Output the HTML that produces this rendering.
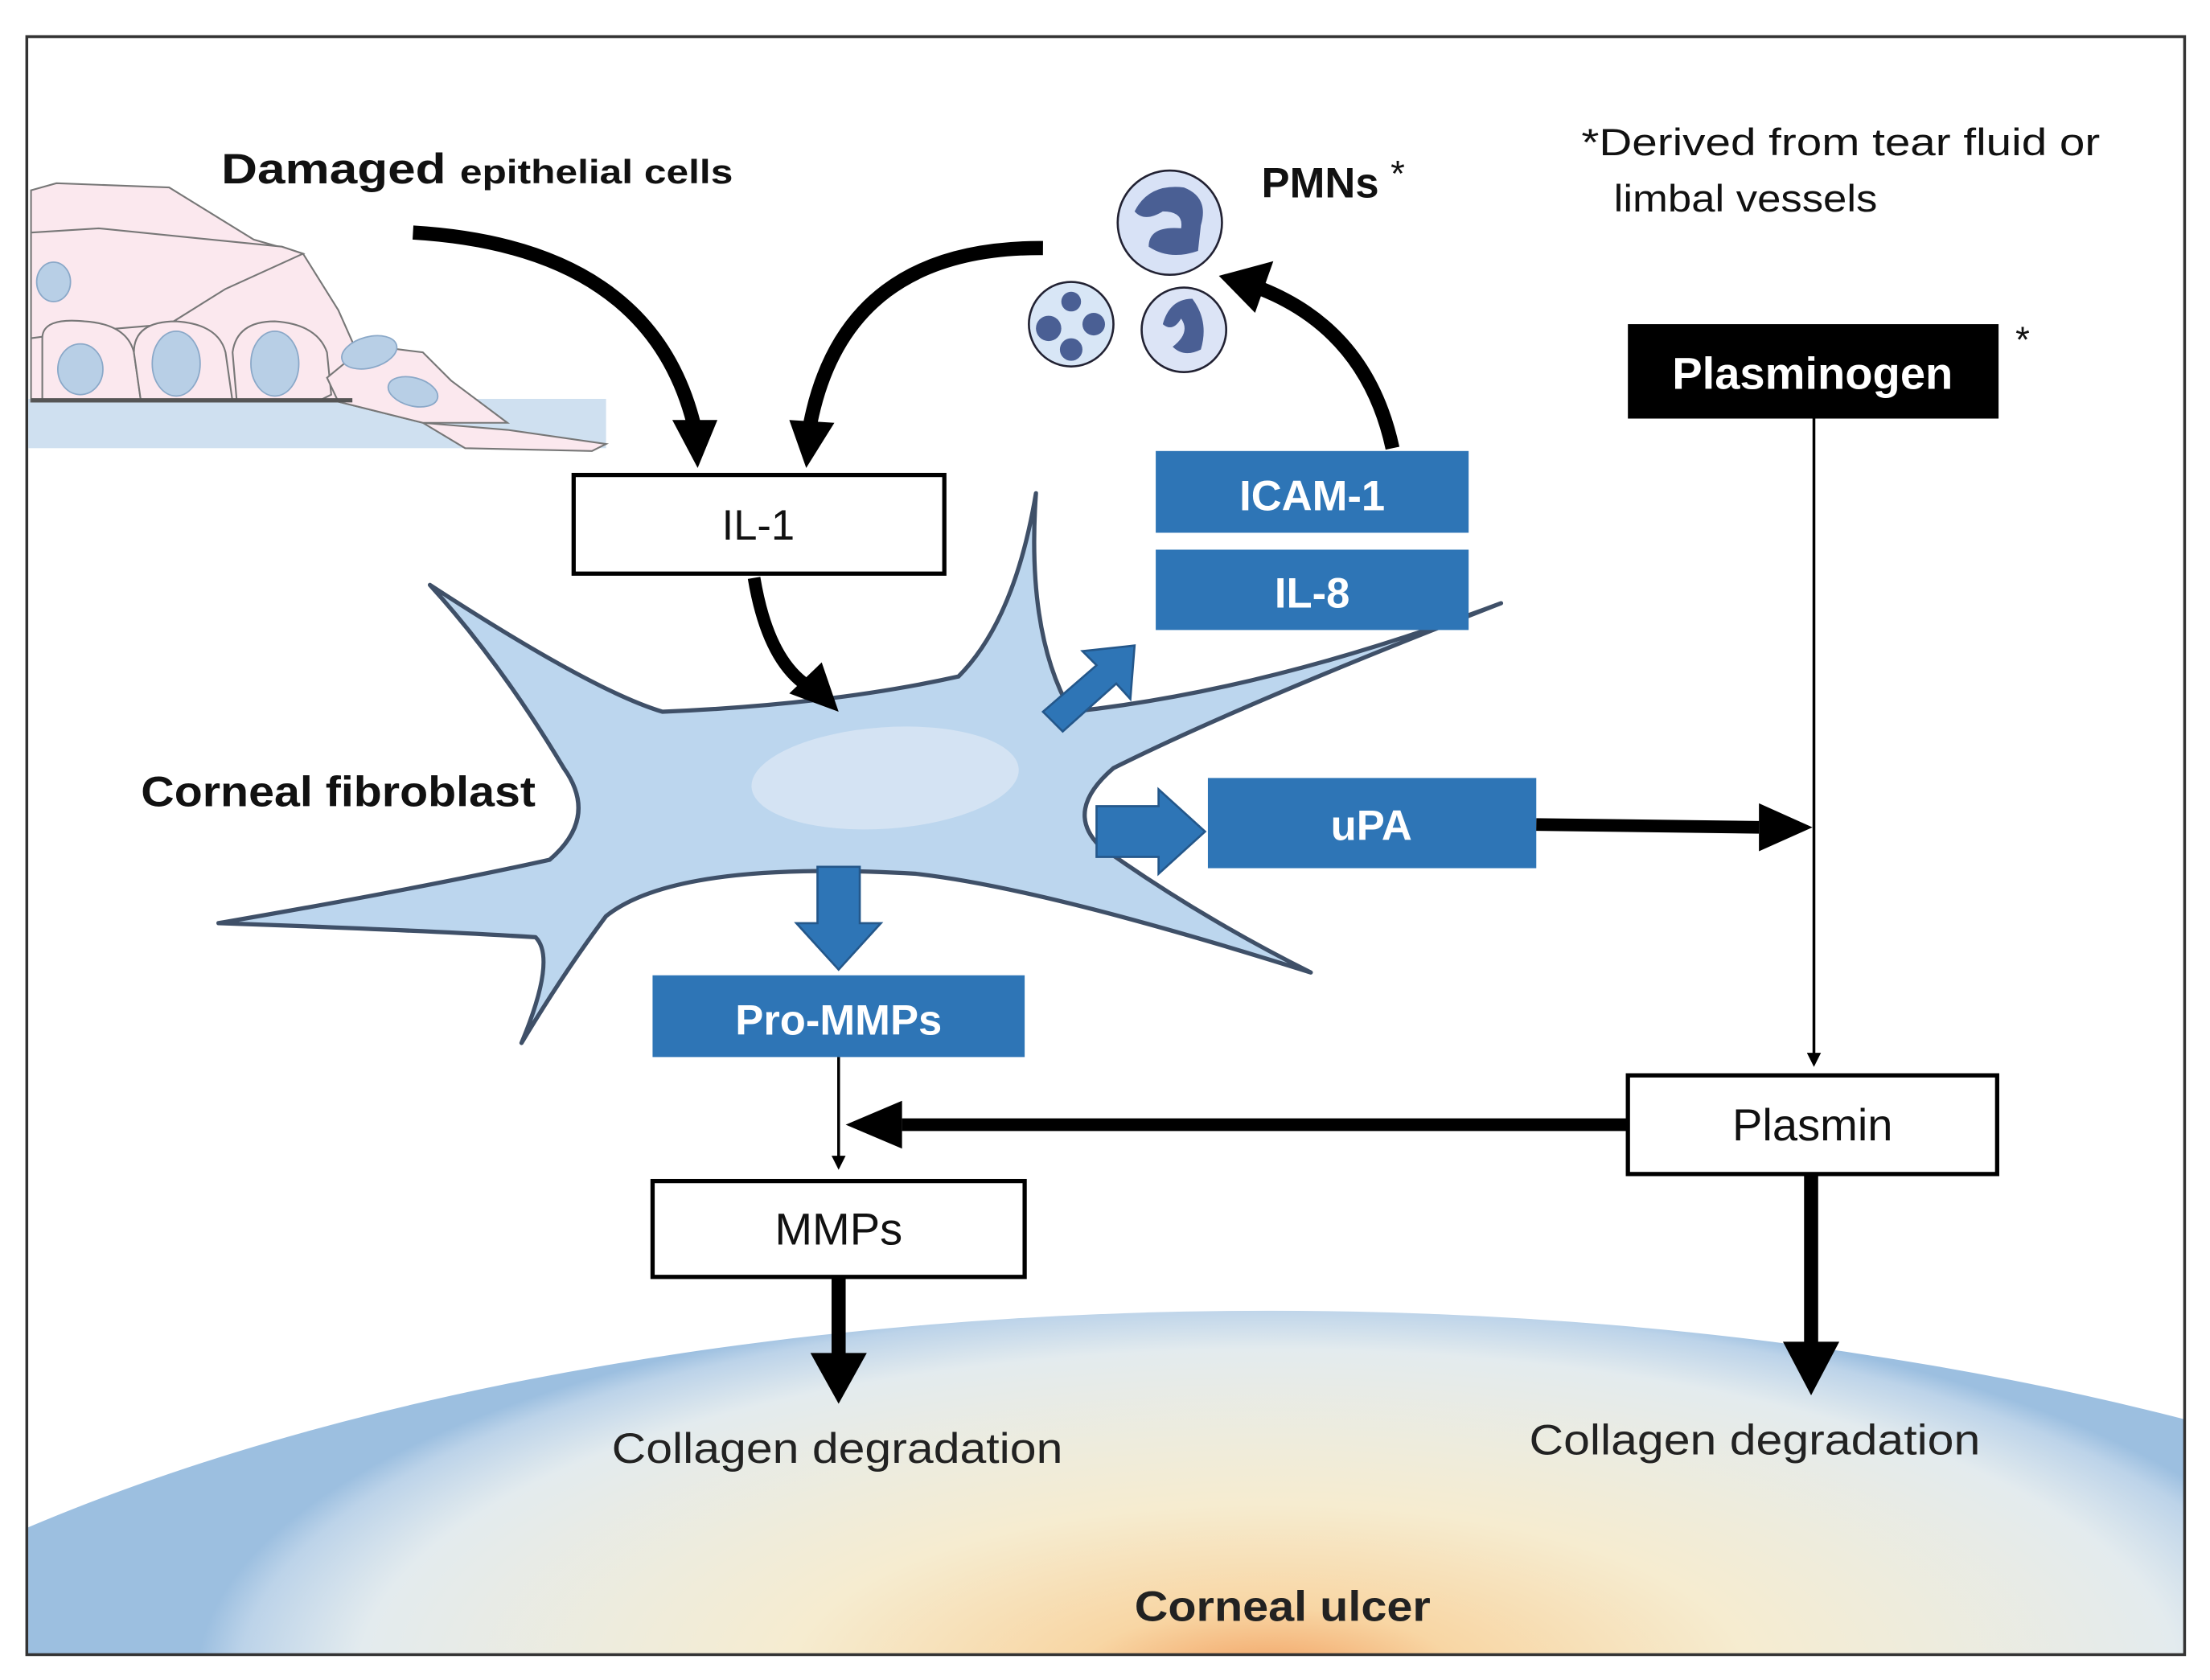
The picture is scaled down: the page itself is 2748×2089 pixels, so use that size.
<!DOCTYPE html>
<html><head><meta charset="utf-8"><style>
html,body{margin:0;padding:0;background:#fff;overflow:hidden;width:2748px;height:2089px;}
svg{display:block;}
text{font-family:"Liberation Sans",sans-serif;}
</style></head><body>
<svg width="2748" height="2089" viewBox="0 0 1568 1192" xmlns="http://www.w3.org/2000/svg">
<defs>
<radialGradient id="ulcer" cx="900" cy="1190" r="760" gradientUnits="userSpaceOnUse" gradientTransform="translate(900 1190) scale(1 0.36) translate(-900 -1190)">
<stop offset="0" stop-color="#f2a060"/>
<stop offset="0.18" stop-color="#f8d6a4"/>
<stop offset="0.45" stop-color="#f6ecd0"/>
<stop offset="0.85" stop-color="#e3ebee"/>
<stop offset="0.96" stop-color="#bcd3e9"/>
<stop offset="1" stop-color="#9cbfe0"/>
</radialGradient>
<marker id="ahs" markerWidth="10" markerHeight="10" refX="8" refY="5" orient="auto" markerUnits="userSpaceOnUse"><path d="M0,0 L10,5 L0,10 z" fill="#000"/></marker>
<clipPath id="frame"><rect x="19" y="26" width="1531" height="1148"/></clipPath>
</defs>
<rect width="1568" height="1192" fill="#fff"/>
<g clip-path="url(#frame)">
<ellipse cx="900" cy="1440" rx="1230" ry="510" fill="url(#ulcer)"/>
</g>
<rect x="19" y="26" width="1531" height="1148" fill="none" stroke="#333" stroke-width="2"/>

<!-- epithelium -->
<g stroke="#777" stroke-width="1.2" fill="#fbe8ee">
<rect x="20" y="283" width="410" height="35" fill="#cfe0f0" stroke="none"/>
<path d="M22,135 L40,130 L120,133 L180,170 L215,180 L240,220 L260,265 L300,300 L360,305 L430,315 L420,320 L330,318 L300,300 L240,285 L22,285 z"/>
<path d="M22,165 L70,162 L200,175 L215,180 L160,205 L120,230 L60,235 L22,240 z"/>
<path d="M30,240 Q30,225 60,228 Q90,230 95,250 L100,285 L30,285 z"/>
<path d="M95,250 Q95,228 125,228 Q155,230 160,250 L165,285 L100,285 z"/>
<path d="M165,250 Q168,228 195,228 Q225,230 232,250 L235,280 L225,285 L168,285 z"/>
<path d="M232,268 L260,245 L300,250 L320,270 L360,300 L300,300 L240,285 z"/>
</g>
<g fill="#b8cfe6" stroke="#8aa8c8" stroke-width="1">
<ellipse cx="57" cy="262" rx="16" ry="18"/>
<ellipse cx="125" cy="258" rx="17" ry="23"/>
<ellipse cx="195" cy="258" rx="17" ry="23"/>
<ellipse cx="262" cy="250" rx="20" ry="11" transform="rotate(-15 262 250)"/>
<ellipse cx="293" cy="278" rx="18" ry="10" transform="rotate(15 293 278)"/>
<ellipse cx="38" cy="200" rx="12" ry="14"/>
</g>
<line x1="22" y1="284" x2="250" y2="284" stroke="#555" stroke-width="3"/>

<text x="157" y="130" font-size="30" font-weight="bold" fill="#111" textLength="363" lengthAdjust="spacingAndGlyphs">Damaged <tspan font-size="24">epithelial cells</tspan></text>

<!-- PMNs -->
<g stroke="#223" stroke-width="1.5">
<circle cx="830" cy="158" r="37" fill="#d8e2f6"/>
<circle cx="760" cy="230" r="30" fill="#d8e6f6"/>
<circle cx="840" cy="234" r="30" fill="#dce4f6"/>
</g>
<g fill="#4a5f94">
<path d="M805,150 Q815,130 840,133 Q858,140 852,160 L850,178 Q830,185 815,175 Q815,160 838,162 Q840,150 825,150 Q812,158 805,150z"/>
<circle cx="744" cy="233" r="9"/><circle cx="760" cy="214" r="7"/><circle cx="776" cy="230" r="8"/><circle cx="760" cy="248" r="8"/>
<path d="M825,230 Q830,212 846,212 Q858,228 852,248 Q840,254 832,246 Q845,236 838,226 Q832,236 825,230z"/>
</g>
<text x="895" y="140" font-size="30" font-weight="bold" fill="#111">PMNs <tspan font-weight="normal" font-size="26" dy="-8">*</tspan></text>

<text x="1122" y="110" font-size="27" fill="#111" textLength="368" lengthAdjust="spacingAndGlyphs">*Derived from tear fluid or</text>
<text x="1145" y="150" font-size="27" fill="#111" textLength="187" lengthAdjust="spacingAndGlyphs">limbal vessels</text>

<!-- fibroblast -->
<path d="M155,655 Q300,630 390,610 Q425,580 400,545 Q355,470 305,415 Q420,490 470,505 Q590,500 680,480 Q720,440 735,350 Q728,450 760,505 Q900,490 1065,428 Q880,500 790,545 Q755,575 780,600 Q850,650 930,690 Q740,630 650,620 Q480,610 430,650 Q400,690 370,740 Q395,680 380,665 Q300,660 155,655z" fill="#bcd6ee" stroke="#3f5068" stroke-width="3" stroke-linejoin="round"/>
<ellipse cx="628" cy="552" rx="95" ry="36" fill="#d4e3f3" transform="rotate(-4 628 552)"/>
<text x="100" y="572" font-size="30" font-weight="bold" fill="#111" textLength="280" lengthAdjust="spacingAndGlyphs">Corneal fibroblast</text>

<!-- boxes -->
<rect x="407" y="337" width="263" height="70" fill="#fff" stroke="#000" stroke-width="3"/>
<text x="538" y="383" font-size="30" text-anchor="middle" fill="#111">IL-1</text>

<rect x="820" y="320" width="222" height="58" fill="#2e75b6"/>
<text x="931" y="362" font-size="30" font-weight="bold" text-anchor="middle" fill="#fff">ICAM-1</text>
<rect x="820" y="390" width="222" height="57" fill="#2e75b6"/>
<text x="931" y="431" font-size="30" font-weight="bold" text-anchor="middle" fill="#fff">IL-8</text>

<rect x="1155" y="230" width="263" height="67" fill="#000"/>
<text x="1286" y="276" font-size="32" font-weight="bold" text-anchor="middle" fill="#fff">Plasminogen</text>
<text x="1430" y="250" font-size="26" fill="#111">*</text>

<rect x="857" y="552" width="233" height="64" fill="#2e75b6"/>
<text x="973" y="596" font-size="30" font-weight="bold" text-anchor="middle" fill="#fff">uPA</text>

<rect x="463" y="692" width="264" height="58" fill="#2e75b6"/>
<text x="595" y="734" font-size="30" font-weight="bold" text-anchor="middle" fill="#fff">Pro-MMPs</text>

<rect x="1155" y="763" width="262" height="70" fill="#fff" stroke="#000" stroke-width="3"/>
<text x="1286" y="809" font-size="32" text-anchor="middle" fill="#111">Plasmin</text>

<rect x="463" y="838" width="264" height="68" fill="#fff" stroke="#000" stroke-width="3"/>
<text x="595" y="883" font-size="32" text-anchor="middle" fill="#111">MMPs</text>

<!-- blue block arrows -->
<g fill="#2e75b6" stroke="#24578a" stroke-width="1.5">
<path d="M740,505 L778,472 L768,462 L805,458 L802,496 L792,485 L754,519z"/>
<path d="M778,572 L822,572 L822,560 L855,590 L822,620 L822,608 L778,608z"/>
<path d="M580,615 L610,615 L610,655 L625,655 L595,688 L565,655 L580,655z"/>
</g>

<!-- black arrows -->
<g fill="none" stroke="#000" stroke-linecap="butt">
<path d="M293,165 Q460,175 492,300" stroke-width="10"/>
<path d="M740,176 Q600,175 575,300" stroke-width="10"/>
<path d="M535,410 Q545,470 575,488" stroke-width="9"/>
<path d="M988,318 Q970,235 895,205" stroke-width="10"/>
<path d="M1090,585 L1248,587" stroke-width="9"/>
<path d="M1155,798 L640,798" stroke-width="9"/>
<path d="M595,906 L595,962" stroke-width="10"/>
<path d="M1285,833 L1285,955" stroke-width="10"/>
<path d="M1287,297 L1287,755" stroke-width="2" marker-end="url(#ahs)"/>
<path d="M595,750 L595,828" stroke-width="2" marker-end="url(#ahs)"/>
</g>
<g fill="#000">
<path d="M477,298 L509,298 L495,332z"/>
<path d="M560,298 L592,300 L572,332z"/>
<path d="M560,492 L595,505 L583,470z"/>
<path d="M868,190 L908,190 L886,222z" transform="rotate(-15 888 205)"/>
<path d="M1248,570 L1286,587 L1248,604z"/>
<path d="M640,781 L600,798 L640,815z"/>
<path d="M575,960 L615,960 L595,996z"/>
<path d="M1265,952 L1305,952 L1285,990z"/>
</g>

<text x="594" y="1038" font-size="30" text-anchor="middle" fill="#222" textLength="320" lengthAdjust="spacingAndGlyphs">Collagen degradation</text>
<text x="1245" y="1032" font-size="30" text-anchor="middle" fill="#222" textLength="320" lengthAdjust="spacingAndGlyphs">Collagen degradation</text>
<text x="910" y="1150" font-size="30" font-weight="bold" text-anchor="middle" fill="#222" textLength="210" lengthAdjust="spacingAndGlyphs">Corneal ulcer</text>
</svg>
</body></html>
